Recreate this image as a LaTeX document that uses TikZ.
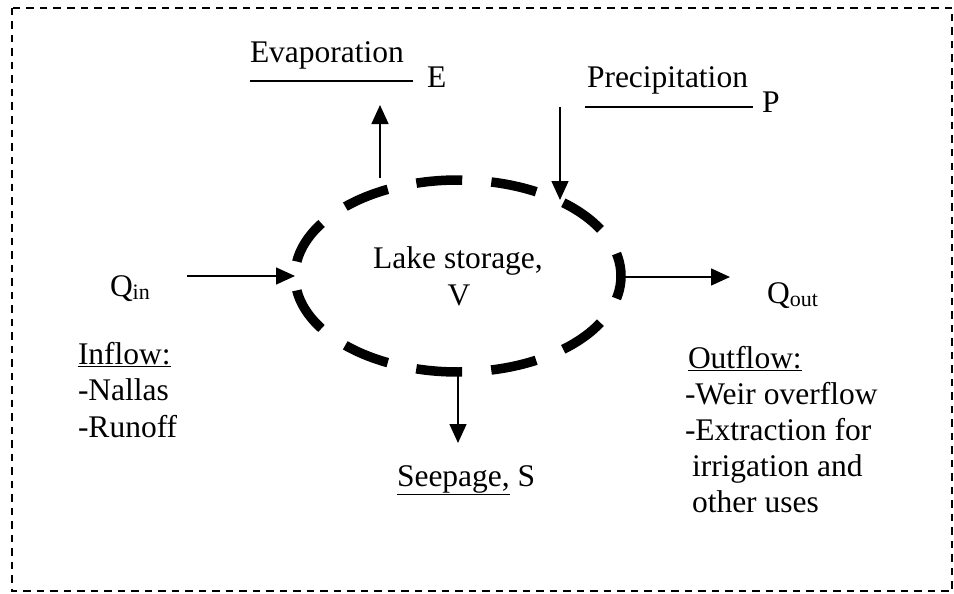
\documentclass[tikz,border=0pt]{standalone}
\usepackage{fontspec}
\setmainfont{Liberation Serif}
\usetikzlibrary{arrows.meta,shapes.geometric}
\newcommand{\subtxt}[1]{\raisebox{-3pt}{\fontsize{22}{22}\selectfont #1}}
\tikzset{
  txt/.style={inner sep=0pt, outer sep=0pt, anchor=base west, font=\fontsize{31.5}{33}\selectfont},
  ctxt/.style={txt, anchor=base},
  flow/.style={line width=1.5pt, -{Triangle[length=19pt,width=17pt]}},
  rule/.style={line width=1.8pt},
  frame/.style={line width=2pt, dash pattern=on 7.5pt off 6pt},
  lakebox/.style={draw, ellipse, inner sep=0pt, outer sep=0pt, minimum width=326pt, minimum height=192pt,
    line width=9.5pt, dash pattern=on 46pt off 29.21pt, dash phase=23pt}
}
\begin{document}
\begin{tikzpicture}[x=1pt,y=-1pt]
\useasboundingbox (0,0) rectangle (954,594);
\draw[frame] (12,8) rectangle (952,591);

\node[lakebox] (lake) at (458,276) {};
\node[ctxt] (lakename) at (458,268) {Lake storage,};
\node[ctxt] (lakeV) at (459,305) {V};

% Evaporation
\node[txt] (evap) at (250,63) {Evaporation};
\coordinate (evapL) at (250,81);
\coordinate (evapR) at (413,81);
\draw[rule] (evapL) -- (evapR);
\node[txt] (E) at (427,88) {E};
\coordinate (evapstart) at (380,178);
\coordinate (evapend) at (380,105);
\draw[flow] (evapstart) -- (evapend);

% Precipitation
\node[txt] (precip) at (587,88) {Precipitation};
\coordinate (precL) at (585,107);
\coordinate (precR) at (753,107);
\draw[rule] (precL) -- (precR);
\node[txt] (P) at (762,113) {P};
\coordinate (precstart) at (560,107);
\coordinate (precend) at (560,200);
\draw[flow] (precstart) -- (precend);

% Inflow
\node[txt] (Qin) at (110,296) {Q\subtxt{in}};
\coordinate (qinstart) at (187,276);
\draw[flow] (qinstart) -- (lake.west);
\node[txt] (inflow) at (78,364) {\underline{Inflow:}};
\node[txt] (nallas) at (78,400) {-Nallas};
\node[txt] (runoff) at (78,437) {-Runoff};

% Outflow
\node[txt] (Qout) at (767,303) {Q\subtxt{out}};
\coordinate (qoutend) at (730,277);
\draw[flow] (lake.east |- qoutend) -- (qoutend);
\node[txt] (outflow) at (688,368) {\underline{Outflow:}};
\node[txt] (weir) at (685,404) {-Weir overflow};
\node[txt] (extr) at (685,440) {-Extraction for};
\node[txt] (irr) at (692,476) {irrigation and};
\node[txt] (other) at (692,512) {other uses};

% Seepage
\coordinate (seepend) at (458,443);
\draw[flow] (lake.south) -- (seepend);
\node[txt] (seep) at (397,486) {\underline{Seepage,} S};
\end{tikzpicture}
\end{document}
